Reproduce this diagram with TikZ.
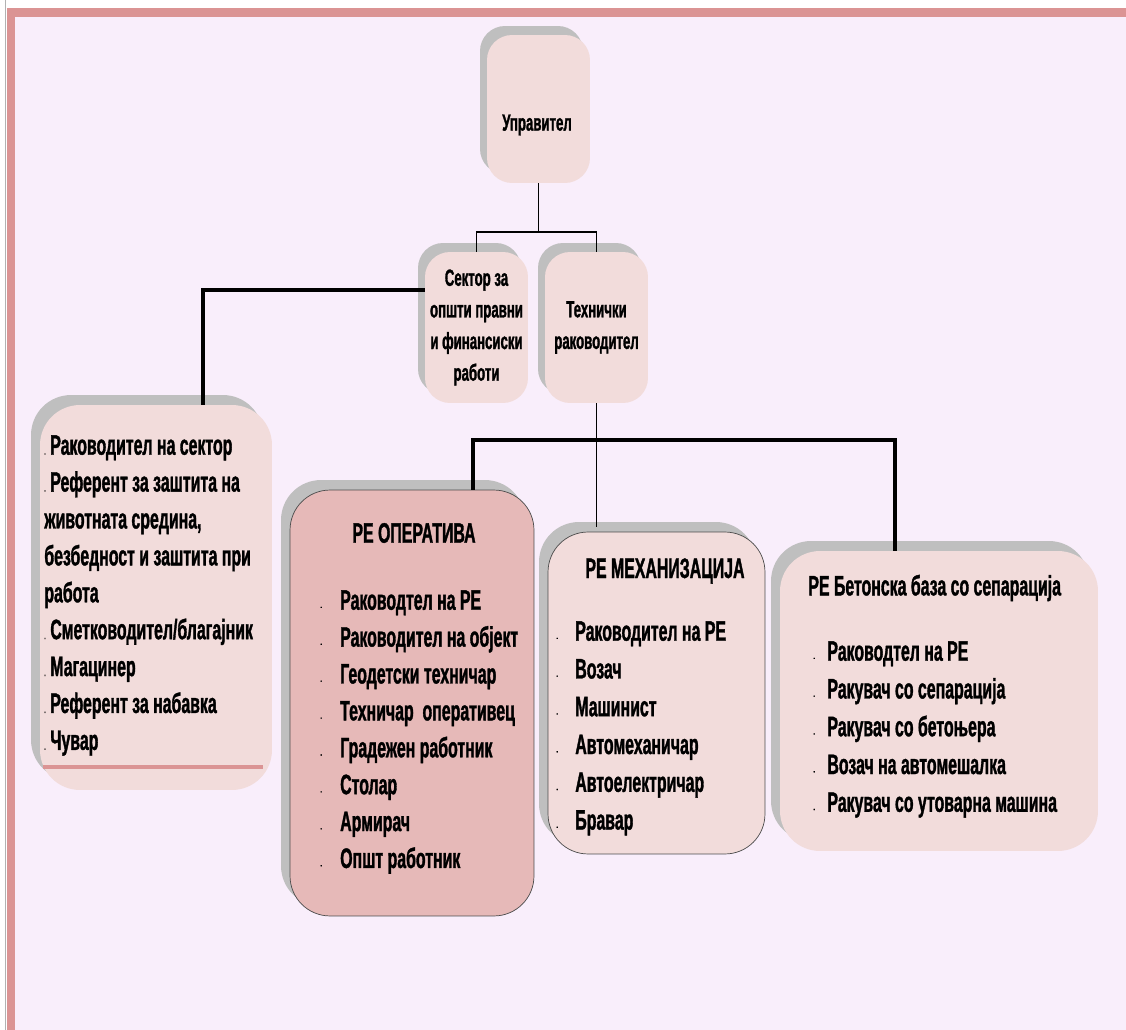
\documentclass[tikz,border=0pt]{standalone}
\usepackage{fontspec}
\setmainfont{Liberation Sans}[FakeStretch=0.565, BoldFeatures={FakeBold=1.2}]
\usetikzlibrary{shadows}
\definecolor{bandpink}{HTML}{DB9494}
\definecolor{pagebg}{HTML}{F9EEFB}
\definecolor{boxpink}{HTML}{F2DCDB}
\definecolor{oppink}{HTML}{E6B9B8}
\definecolor{shadegray}{HTML}{BFBFBF}
\newcommand{\dotmark}{\makebox[3.4pt][l]{\tiny.}}
\newcommand{\dashmark}[1]{\makebox[#1][l]{\tiny -}}
\begin{document}
\begin{tikzpicture}[x=0.02cm, y=-0.02cm,
    unit/.style={fill=boxpink, rounded corners=0.5cm, inner sep=0pt,
        minimum width=2.06cm, minimum height=3.02cm,
        general shadow={fill=shadegray, shadow xshift=-0.14cm, shadow yshift=0.18cm},
        font=\bfseries\fontsize{13.3}{18}\selectfont, align=center},
    group/.style={fill=boxpink, rounded corners=0.8cm, inner sep=0pt,
        general shadow={fill=shadegray, shadow xshift=-0.18cm, shadow yshift=0.2cm}},
    items/.style={inner sep=0pt, align=left, font=\bfseries\fontsize{16}{21}\selectfont},
    title/.style={inner sep=0pt, font=\bfseries\fontsize{16}{16}\selectfont},
    link/.style={line width=1.1pt},
    bar/.style={line width=1.8pt}]
  \useasboundingbox (0,0) rectangle (1126,1030);
  % page
  \fill[white] (0,0) rectangle (1126,1030);
  \draw[gray!60, line width=0.5pt] (5.5,0) -- (5.5,1030);
  \fill[bandpink] (7,8) rectangle (1126,1030);
  \fill[pagebg] (15,17) rectangle (1126,1030);

  % top of the chart
  \node[unit, minimum height=2.96cm] (boss) at (538.5,109) {};
  \node[font=\bfseries\fontsize{13.3}{18}\selectfont] (bosst) at (537,125) {Управител};
  \node[unit] (sector) at (476.5,327.5) {Сектор за\\општи правни\\и финансиски\\работи};
  \node[unit] (tech) at (596.5,327.5) {Технички\\раководител};

  % sector staff
  \node[group, minimum width=4.64cm, minimum height=7.7cm] (sectorbox) at (156,597.5) {};
  \node[items, anchor=north west] (sectorlist) at (44,435) {%
    \dotmark Раководител на сектор\\
    \dotmark Референт за заштита на\\
    животната средина,\\
    безбедност и заштита при\\
    работа\\
    \dotmark Сметководител/благајник\\
    \dotmark Магацинер\\
    \dotmark Референт за набавка\\
    \dotmark Чувар};
  \draw[bandpink, line width=2.2pt] (43,767) -- (263,767);

  % operative unit
  \node[group, fill=oppink, draw=black!70, minimum width=4.88cm, minimum height=8.52cm] (ops) at (412,703) {};
  \node[title] (opst) at (414,533) {РЕ ОПЕРАТИВА};
  \node[items, anchor=north west] (opslist) at (320,590) {%
    \dashmark{11.3pt}Раководтел на РЕ\\
    \dashmark{11.3pt}Раководител на објект\\
    \dashmark{11.3pt}Геодетски техничар\\
    \dashmark{11.3pt}Техничар~ оперативец\\
    \dashmark{11.3pt}Градежен работник\\
    \dashmark{11.3pt}Столар\\
    \dashmark{11.3pt}Армирач\\
    \dashmark{11.3pt}Општ работник};

  % machinery unit
  \node[group, draw=black!70, minimum width=4.34cm, minimum height=6.44cm] (mech) at (656.5,693) {};
  \node[title] (mecht) at (665,571) {РЕ МЕХАНИЗАЦИЈА};
  \node[items, anchor=north west, font=\bfseries\fontsize{16}{21.5}\selectfont] (mechlist) at (556,621) {%
    \dashmark{10.8pt}Раководител на РЕ\\
    \dashmark{10.8pt}Возач\\
    \dashmark{10.8pt}Машинист\\
    \dashmark{10.8pt}Автомеханичар\\
    \dashmark{10.8pt}Автоелектричар\\
    \dashmark{10.8pt}Бравар};

  % concrete plant unit
  \node[group, minimum width=6.36cm, minimum height=6cm] (beton) at (939,701) {};
  \node[title, anchor=west] (betont) at (808,588) {РЕ Бетонска база со сепарација};
  \node[items, anchor=north west, font=\bfseries\fontsize{16}{21.5}\selectfont] (betonlist) at (813,641) {%
    \dashmark{8pt}Раководтел на РЕ\\
    \dashmark{8pt}Ракувач со сепарација\\
    \dashmark{8pt}Ракувач со бетоњера\\
    \dashmark{8pt}Возач на автомешалка\\
    \dashmark{8pt}Ракувач со утоварна машина};

  % connectors
  \draw[link] (boss.south) -- ++(0,49) coordinate (fork);
  \draw[link] (sector.north) |- (fork) -| (tech.north);
  \draw[bar] (sector.west |- 0,290) -| (sectorbox.north -| 203,0);
  \draw[link] (tech.south) -- (tech.south |- 0,527);
  \coordinate (split) at (684,440);
  \draw[bar] (ops.north -| 473,0) |- (split) -| (beton.north -| 895,0);
\end{tikzpicture}
\end{document}
